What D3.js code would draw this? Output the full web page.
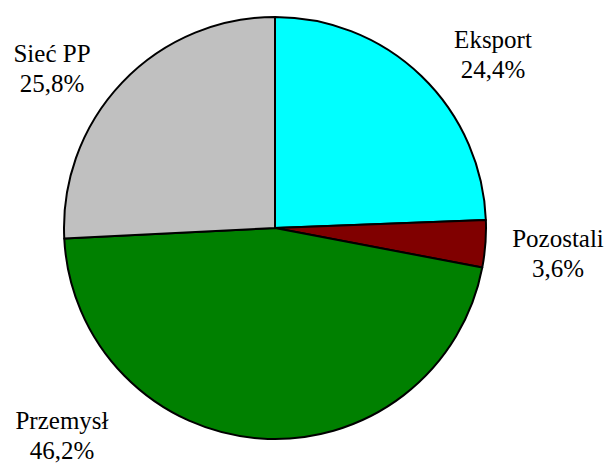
<!DOCTYPE html>
<html><head><meta charset="utf-8">
<script src="https://cdn.jsdelivr.net/npm/d3@7"></script>
</head><body style="margin:0;background:#fff">
<svg id="c" width="607" height="463" style="font-family:'Times New Roman','Liberation Serif',Tinos,serif"></svg>
<script>
const categories = ["Eksport", "Pozostali", "Przemysł", "Sieć PP"];
const values = [24.4, 3.6, 46.2, 25.8];
const valueLabels = ["24,4%", "3,6%", "46,2%", "25,8%"];
const colors = ["#00FFFF", "#800000", "#008000", "#C0C0C0"];
const labelPos = [[493, 48], [558, 247], [62, 429], [52, 62]];

const svg = d3.select("#c");
const cx = 275, cy = 228, r = 211;
const pie = d3.pie().sort(null).value(d => d)(values);
const arc = d3.arc().innerRadius(0).outerRadius(r);
const g = svg.append("g").attr("transform", `translate(${cx},${cy})`);
g.selectAll("path").data(pie).enter().append("path")
  .attr("d", arc)
  .attr("fill", (d, i) => colors[i])
  .attr("stroke", "#000").attr("stroke-width", 2).attr("stroke-linejoin", "round");

categories.forEach((c, i) => {
  [c, valueLabels[i]].forEach((s, k) => {
    svg.append("text")
      .attr("x", labelPos[i][0]).attr("y", labelPos[i][1] + k * 30)
      .attr("text-anchor", "middle")
      .attr("font-family", "Times New Roman")
      .style("font-family", "'Times New Roman', 'Liberation Serif', serif")
      .attr("font-size", 25)
      .text(s);
  });
});
</script>
</body></html>
